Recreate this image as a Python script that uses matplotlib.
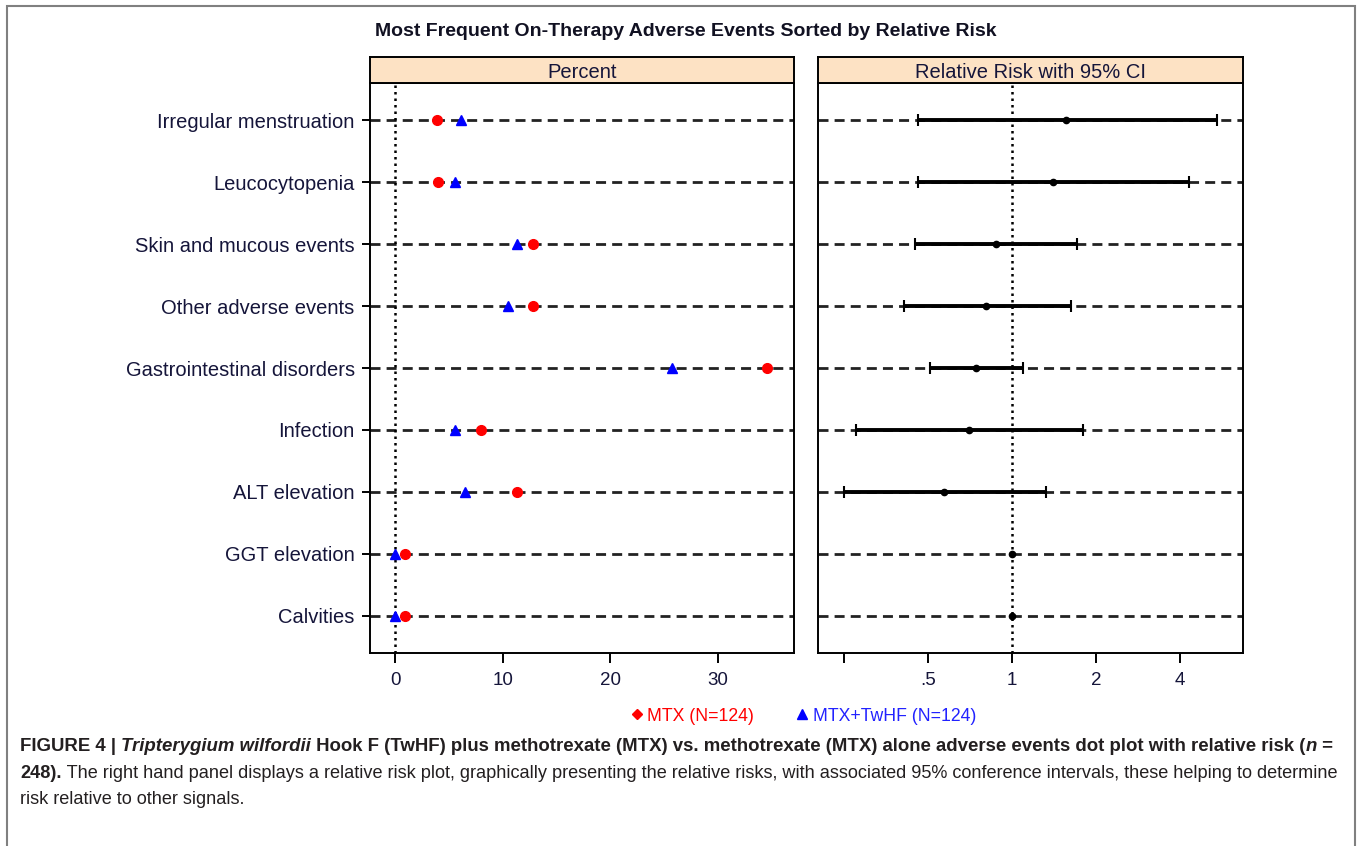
import numpy as np
import matplotlib
matplotlib.use("Agg")
import matplotlib.pyplot as plt
from matplotlib.lines import Line2D
from matplotlib.patches import Rectangle

plt.rcParams['font.family'] = ['Liberation Sans', 'DejaVu Sans']

# adverse events, top to bottom as drawn
events = ["Irregular menstruation", "Leucocytopenia", "Skin and mucous events",
          "Other adverse events", "Gastrointestinal disorders", "Infection",
          "ALT elevation", "GGT elevation", "Calvities"]
mtx_pct = [3.9, 4.0, 12.8, 12.8, 34.6, 8.0, 11.3, 0.9, 0.9]
twhf_pct = [6.1, 5.6, 11.3, 10.5, 25.8, 5.6, 6.5, 0.0, 0.0]

# relative risk with 95% CI (nan = no interval drawn)
rr = [1.56, 1.40, 0.876, 0.807, 0.743, 0.70, 0.57, 1.0, 1.0]
rr_lo = [0.46, 0.46, 0.45, 0.41, 0.51, 0.276, 0.25, np.nan, np.nan]
rr_hi = [5.43, 4.31, 1.71, 1.63, 1.10, 1.80, 1.32, np.nan, np.nan]

pct_ticks = [0, 10, 20, 30]
rr_ticks = [0.25, 0.5, 1, 2, 4]
rr_ticklabels = ["", ".5", "1", "2", "4"]

W, H = 1360, 846
fig = plt.figure(figsize=(W / 100, H / 100), dpi=100)

def fbox(x0, y0, x1, y1):
    # pixel box -> figure fraction rect
    return [x0 / W, 1 - y1 / H, (x1 - x0) / W, (y1 - y0) / H]

txt_col = "#15153a"
dash_col = "#222222"
n = len(events)
ypos = np.arange(n)[::-1]

axL = fig.add_axes(fbox(370, 83, 794, 653))
axR = fig.add_axes(fbox(818, 83, 1243, 653))

for ax in (axL, axR):
    for y in ypos:
        ax.axhline(y, color=dash_col, lw=2.0, dashes=(3.6, 2.2), zorder=1)
    ax.set_ylim(-0.6, n - 0.4)
    for s in ax.spines.values():
        s.set_linewidth(1.4)
        s.set_color("black")
    ax.tick_params(axis="x", length=7, width=1.4, pad=7, labelsize=13.5,
                   labelcolor=txt_col)

# left panel: percent
axL.axvline(0, color="black", lw=1.8, ls=(0, (1, 1.6)), zorder=1)
axL.plot(mtx_pct, ypos, "o", color="#ff0000", ms=7, mec="#ff0000", zorder=3)
axL.plot(twhf_pct, ypos, "^", color="#0000ff", ms=6.8, mec="#0000ff", zorder=3)
axL.set_xlim(-2.33, 37.1)
axL.set_xticks(pct_ticks)
axL.set_yticks(ypos)
axL.set_yticklabels(events)
axL.tick_params(axis="y", length=6, width=1.4, pad=5, labelsize=14.5,
                labelcolor=txt_col)

# right panel: relative risk on log2 scale
axR.set_xscale("log", base=2)
axR.axvline(1, color="black", lw=1.8, ls=(0, (1, 1.6)), zorder=1)
for y, r, lo, hi in zip(ypos, rr, rr_lo, rr_hi):
    if not np.isnan(lo):
        axR.plot([lo, hi], [y, y], color="black", lw=2.8, solid_capstyle="butt", zorder=2)
        axR.plot([lo, hi], [y, y], "|", color="black", ms=8, mew=1.5, zorder=3)
    axR.plot([r], [y], "o", color="black", ms=4.5, zorder=4)
axR.set_xlim(0.202, 6.73)
axR.set_xticks(rr_ticks)
axR.set_xticklabels(rr_ticklabels)
axR.xaxis.set_minor_locator(matplotlib.ticker.NullLocator())
axR.set_yticks([])

# strips
for box, label in ((fbox(370, 57, 794, 83), "Percent"),
                   (fbox(818, 57, 1243, 83), "Relative Risk with 95% CI")):
    st = fig.add_axes(box)
    st.set_facecolor("#fde2c4")
    st.set_xticks([])
    st.set_yticks([])
    for s in st.spines.values():
        s.set_linewidth(1.4)
    st.text(0.5, 0.42, label, ha="center", va="center", fontsize=14.5, color=txt_col)

fig.text(686 / W, 1 - 32 / H, "Most Frequent On-Therapy Adverse Events Sorted by Relative Risk",
         ha="center", va="center", fontsize=14, weight="bold", color="#111122")

# legend
handles = [Line2D([], [], marker="D", ls="none", color="#ff0000", ms=5.5),
           Line2D([], [], marker="^", ls="none", color="#0000ff", ms=6.5)]
leg = fig.legend(handles, ["MTX (N=124)", "MTX+TwHF (N=124)"], loc="center",
                 bbox_to_anchor=(802 / W, 1 - 716 / H), ncol=2, frameon=False,
                 fontsize=12.7, handletextpad=0.1, columnspacing=2.2, handlelength=1.0,
                 labelcolor=["#ff0000", "#2222ff"])

# outer frame
fig.add_artist(Rectangle((7 / W, -0.05), (1355 - 7) / W, 1.05 - 6 / H,
                         transform=fig.transFigure, fill=False, ec="#808080", lw=1.5))

# caption, built from styled pieces placed one after another
cap_col = "#231f20"
cap_lines = [
    [("FIGURE 4 | ", "bold", "normal"), ("Tripterygium wilfordii", "bold", "italic"),
     (" Hook F (TwHF) plus methotrexate (MTX) vs. methotrexate (MTX) alone adverse events dot plot with relative risk (",
      "bold", "normal"), ("n", "bold", "italic"), (" =", "bold", "normal")],
    [("248).", "bold", "normal"),
     (" The right hand panel displays a relative risk plot, graphically presenting the relative risks, with associated 95% conference intervals, these helping to determine",
      "normal", "normal")],
    [("risk relative to other signals.", "normal", "normal")],
]
cap_y = [746, 773, 799]
cap_size = [13.45, 13.05, 13.05]
for pieces, yy, fs in zip(cap_lines, cap_y, cap_size):
    prev = None
    for text, wt, stl in pieces:
        if prev is None:
            prev = fig.text(20 / W, 1 - yy / H, text, fontsize=fs, weight=wt, style=stl,
                            color=cap_col, va="center", ha="left")
        else:
            prev = axL.annotate(text, xy=(1, 0), xycoords=prev, va="bottom", ha="left",
                                fontsize=fs, weight=wt, style=stl, color=cap_col,
                                annotation_clip=False)

fig.savefig("out.png", dpi=100)
